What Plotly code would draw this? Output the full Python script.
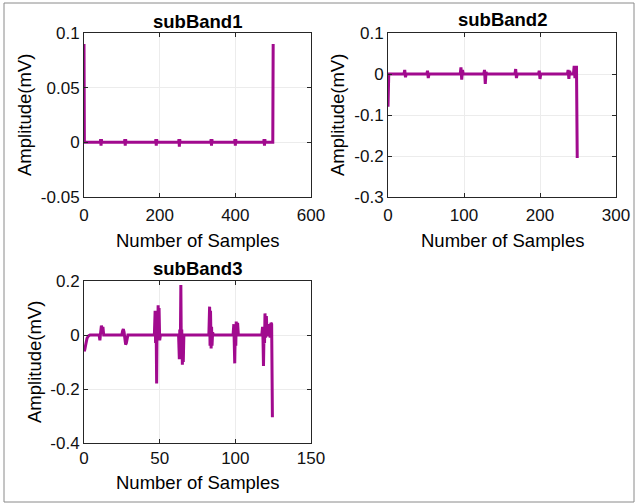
import plotly.graph_objects as go

# ---------------- data ----------------
sb1_x = [0, 1, 43, 44, 45, 46, 47, 107, 108, 109, 110, 111, 189, 190, 191, 192, 193,
         250, 251, 252, 253, 254, 335, 336, 337, 338, 339, 398, 399, 400, 401, 402,
         475, 476, 477, 478, 479, 499, 500]
sb1_y = [0.09, 0, 0, 0.003, -0.003, 0.003, 0, 0, 0.003, -0.003, 0.003, 0,
         0, 0.003, -0.003, 0.003, 0, 0, 0.003, -0.004, 0.003, 0,
         0, 0.003, -0.003, 0.003, 0, 0, 0.003, -0.003, 0.003, 0,
         0, 0.003, -0.003, 0.003, 0, 0, 0.09]

sb2_x = [0, 1, 21, 22, 23, 24, 51, 52, 53, 54, 95, 96, 97, 98, 99,
         126, 127, 128, 129, 130, 167, 168, 169, 170, 198, 199, 200, 201,
         236, 237, 238, 239, 240, 244, 245, 246, 247, 248, 249]
sb2_y = [-0.08, 0, 0, 0.01, -0.008, 0, 0, 0.008, -0.01, 0, 0, 0.016, -0.014, 0.01, 0,
         0, 0.01, -0.024, 0.005, 0, 0, 0.012, -0.01, 0, 0, 0.008, -0.012, 0,
         0, 0.01, -0.012, 0.008, 0, 0, 0.02, -0.01, 0, 0.02, -0.205]

sb3_x = [0, 0.5, 1, 1.5, 2, 3, 4,
         10, 10.5, 11, 11.5, 12, 12.5, 13,
         25, 25.5, 26, 26.5, 27, 27.5, 28, 28.5, 29,
         46.5, 47, 47.3, 47.6, 48, 48.3, 48.6, 49, 49.3, 49.6, 50, 50.5,
         62.5, 63, 63.3, 63.6, 64, 64.3, 64.6, 65, 65.3, 65.6, 66,
         82.5, 83, 83.3, 83.6, 84, 84.3, 84.6, 85, 85.5,
         98.5, 99, 99.3, 99.6, 100, 100.3, 100.6, 101, 101.5, 102,
         117.5, 118, 118.3, 118.6, 119, 119.3, 119.6, 120, 120.5, 121,
         122, 122.5, 123, 123.5, 124, 124.5]
sb3_y = [-0.06, -0.055, -0.04, -0.025, -0.012, -0.003, 0,
         0, -0.02, 0.01, 0.035, 0.02, 0.03, 0,
         0, 0.015, 0.022, 0.01, -0.02, -0.035, -0.03, -0.01, 0,
         0, 0.09, -0.03, 0.085, -0.18, 0.05, -0.02, 0.11, -0.01, 0.1, -0.02, 0,
         0, -0.09, 0.02, -0.08, 0.185, -0.05, 0.02, -0.11, -0.02, -0.1, 0,
         0, 0.105, -0.04, 0.09, -0.05, 0.03, -0.04, 0.01, 0,
         0, 0.04, -0.02, -0.105, 0.03, -0.04, 0.05, 0.0, 0.045, 0,
         0, 0.03, -0.02, -0.115, 0.02, -0.03, 0.08, -0.01, 0.07, 0,
         0, 0.04, -0.01, 0.045, 0.04, -0.305]

titles = ["subBand1", "subBand2", "subBand3"]
xlabel = "Number of Samples"
ylabel = "Amplitude(mV)"

x1_ticks = [0, 200, 400, 600]
y1_ticks = [-0.05, 0, 0.05, 0.1]
y1_text = ["-0.05", "0", "0.05", "0.1"]
x2_ticks = [0, 100, 200, 300]
y2_ticks = [-0.3, -0.2, -0.1, 0, 0.1]
y2_text = ["-0.3", "-0.2", "-0.1", "0", "0.1"]
x3_ticks = [0, 50, 100, 150]
y3_ticks = [-0.4, -0.2, 0, 0.2]
y3_text = ["-0.4", "-0.2", "0", "0.2"]

# ---------------- layout geometry ----------------
W, H = 637, 504
LINE = "#A10A8E"
FONT = "Liberation Sans, Arial, sans-serif"


def px(x):
    return x / W


def py(y):
    return 1 - y / H


fig = go.Figure()
series = [(sb1_x, sb1_y, "x", "y"), (sb2_x, sb2_y, "x2", "y2"), (sb3_x, sb3_y, "x3", "y3")]
for xs, ys, xa, ya in series:
    fig.add_trace(go.Scatter(x=xs, y=ys, mode="lines", xaxis=xa, yaxis=ya,
                             line=dict(color=LINE, width=3), showlegend=False,
                             hoverinfo="skip"))

boxes = [(84, 311, 33, 197), (388, 616, 33, 197), (84, 311, 281, 443)]
standoffs = [3, 3, 0]

axis_common = dict(showline=True, linecolor="#262626", linewidth=1, mirror="ticks",
                   ticks="inside", ticklen=4, tickcolor="#262626", automargin=False,
                   showgrid=True, gridcolor="#ececec", gridwidth=1, zeroline=False,
                   tickfont=dict(family=FONT, size=17, color="#111111"))

xr = [[0, 600], [0, 300], [0, 150]]
yr = [[-0.05, 0.1], [-0.3, 0.1], [-0.4, 0.2]]
xt = [x1_ticks, x2_ticks, x3_ticks]
yt = [(y1_ticks, y1_text), (y2_ticks, y2_text), (y3_ticks, y3_text)]

layout = {}
for i, (l, r, t, b) in enumerate(boxes):
    sfx = "" if i == 0 else str(i + 1)
    layout["xaxis" + sfx] = dict(domain=[px(l), px(r)], range=xr[i], tickvals=xt[i],
                                 anchor="y" + sfx, ticklabelstandoff=standoffs[i],
                                 **axis_common)
    layout["yaxis" + sfx] = dict(domain=[py(b), py(t)], range=yr[i], tickvals=yt[i][0],
                                 ticktext=yt[i][1], anchor="x" + sfx, **axis_common)

annotations = []
title_pos = [(197, 22), (502, 20), (197, 268)]
xlab_pos = [(197, 240), (502, 240), (197, 482)]
ylab_pos = [(25, 115), (338, 115), (34, 362)]
for i in range(3):
    annotations.append(dict(text="<b>" + titles[i] + "</b>", x=px(title_pos[i][0]),
                            y=py(title_pos[i][1]), xref="paper", yref="paper",
                            showarrow=False, xanchor="center", yanchor="middle",
                            font=dict(family=FONT, size=18.5, color="#000000")))
    annotations.append(dict(text=xlabel, x=px(xlab_pos[i][0]), y=py(xlab_pos[i][1]),
                            xref="paper", yref="paper", showarrow=False,
                            xanchor="center", yanchor="middle",
                            font=dict(family=FONT, size=18.5, color="#000000")))
    annotations.append(dict(text=ylabel, x=px(ylab_pos[i][0]), y=py(ylab_pos[i][1]),
                            xref="paper", yref="paper", showarrow=False, textangle=-90,
                            xanchor="center", yanchor="middle",
                            font=dict(family=FONT, size=18.5, color="#000000")))

fig.update_layout(
    width=W, height=H, margin=dict(l=0, r=0, t=0, b=0, pad=0, autoexpand=False),
    paper_bgcolor="white", plot_bgcolor="white",
    annotations=annotations,
    shapes=[dict(type="rect", xref="paper", yref="paper",
                 x0=px(4), x1=px(634), y0=py(502), y1=py(3),
                 line=dict(color="#8a8a8a", width=1))],
    **layout,
)

fig.write_html("out.html", config={"displayModeBar": False},
               post_script="document.body.style.margin='0';document.body.style.overflow='hidden';")
